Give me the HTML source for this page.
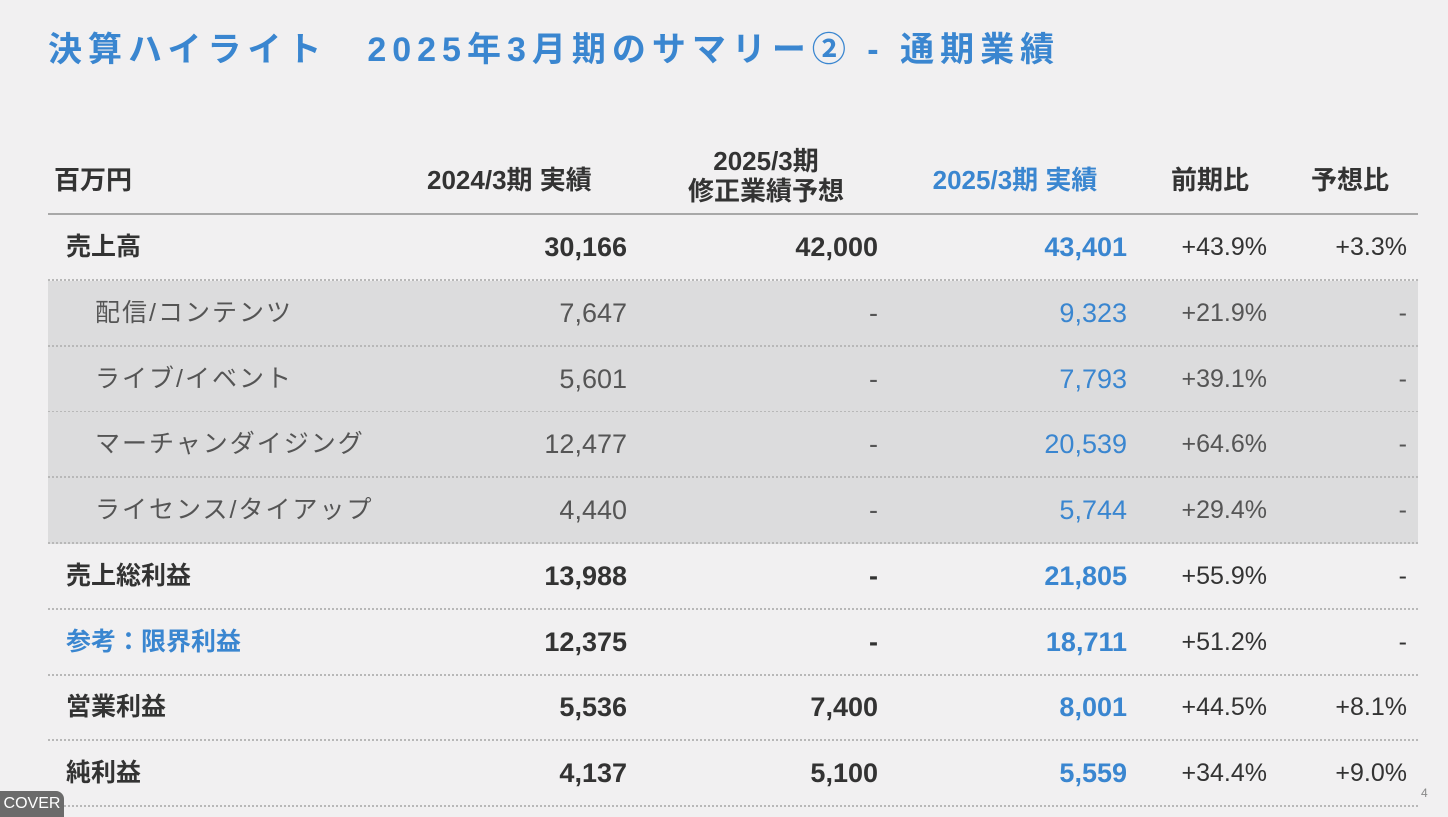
<!DOCTYPE html>
<html><head><meta charset="utf-8"><style>
body{margin:0;width:1448px;height:817px;background:#f1f0f1;overflow:hidden;position:relative;font-family:"Liberation Sans","Noto Sans CJK JP",sans-serif;color:#333}
.a{position:absolute;white-space:nowrap}
.title{left:48px;top:22px;font-size:34px;font-weight:bold;color:#3a86d0;letter-spacing:6px}
.hd{font-size:26px;font-weight:bold;color:#333;text-align:center;line-height:30px}
.row{position:absolute;left:48px;width:1370px;height:66px;box-sizing:border-box;border-bottom:2px dotted #b8b8b8}
.row.sub{background:#dcdcdd}
.row div{position:absolute;top:0;line-height:65px;font-size:27px;white-space:nowrap}
.lbl{left:18px;font-weight:bold;font-size:25px!important}
.sub .lbl{left:47px;font-weight:normal;color:#555;letter-spacing:2px}
.n{text-align:right;width:200px}
.c1{left:379px}.c2{left:630px}.c3{left:879px;color:#3a86d0}.c4{left:1019px;width:200px;font-size:25px!important}.c5{left:1159px;width:200px;font-size:25px!important}
.b{font-weight:bold}
.sub .n{color:#555}.sub .c3{color:#3a86d0}
</style></head><body>
<div class="a title">決算ハイライト　2025年3月期のサマリー② - 通期業績</div>
<div class="a hd" style="left:54px;top:165px">百万円</div>
<div class="a hd" style="left:427px;top:165px">2024/3期 実績</div>
<div class="a hd" style="left:666px;top:146px;width:200px">2025/3期<br>修正業績予想</div>
<div class="a hd" style="left:915px;top:165px;width:200px;color:#3a86d0">2025/3期 実績</div>
<div class="a hd" style="left:1160px;top:165px;width:100px">前期比</div>
<div class="a hd" style="left:1300px;top:165px;width:100px">予想比</div>
<div class="a" style="left:48px;top:213px;width:1370px;height:2px;background:#a8a8a8"></div>

<div class="row" style="top:215px"><div class="lbl">売上高</div><div class="n c1 b">30,166</div><div class="n c2 b">42,000</div><div class="n c3 b">43,401</div><div class="n c4">+43.9%</div><div class="n c5">+3.3%</div></div>
<div class="row sub" style="top:281px"><div class="lbl">配信/コンテンツ</div><div class="n c1">7,647</div><div class="n c2">-</div><div class="n c3">9,323</div><div class="n c4">+21.9%</div><div class="n c5">-</div></div>
<div class="row sub" style="top:347px"><div class="lbl">ライブ/イベント</div><div class="n c1">5,601</div><div class="n c2">-</div><div class="n c3">7,793</div><div class="n c4">+39.1%</div><div class="n c5">-</div></div>
<div class="row sub" style="top:412px"><div class="lbl">マーチャンダイジング</div><div class="n c1">12,477</div><div class="n c2">-</div><div class="n c3">20,539</div><div class="n c4">+64.6%</div><div class="n c5">-</div></div>
<div class="row sub" style="top:478px"><div class="lbl">ライセンス/タイアップ</div><div class="n c1">4,440</div><div class="n c2">-</div><div class="n c3">5,744</div><div class="n c4">+29.4%</div><div class="n c5">-</div></div>
<div class="row" style="top:544px"><div class="lbl">売上総利益</div><div class="n c1 b">13,988</div><div class="n c2 b">-</div><div class="n c3 b">21,805</div><div class="n c4">+55.9%</div><div class="n c5">-</div></div>
<div class="row" style="top:610px"><div class="lbl" style="color:#3a86d0">参考：限界利益</div><div class="n c1 b">12,375</div><div class="n c2 b">-</div><div class="n c3 b">18,711</div><div class="n c4">+51.2%</div><div class="n c5">-</div></div>
<div class="row" style="top:675px"><div class="lbl">営業利益</div><div class="n c1 b">5,536</div><div class="n c2 b">7,400</div><div class="n c3 b">8,001</div><div class="n c4">+44.5%</div><div class="n c5">+8.1%</div></div>
<div class="row" style="top:741px"><div class="lbl">純利益</div><div class="n c1 b">4,137</div><div class="n c2 b">5,100</div><div class="n c3 b">5,559</div><div class="n c4">+34.4%</div><div class="n c5">+9.0%</div></div>

<div class="a" style="left:1421px;top:786px;font-size:12px;color:#888">4</div>
<div class="a" style="left:0;top:791px;width:64px;height:26px;background:#6b6b6b;border-radius:0 8px 0 0;color:#fff;font-size:16px;line-height:26px;text-align:center">COVER</div>
</body></html>
